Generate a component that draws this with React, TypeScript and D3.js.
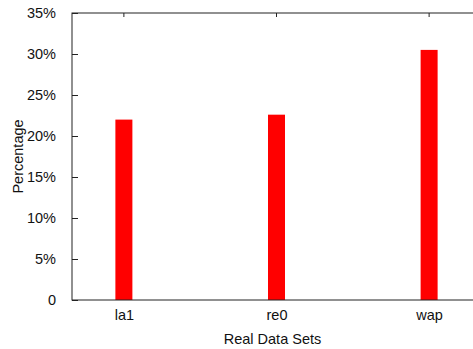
import { useEffect, useRef } from "react";
import * as d3 from "d3";

const categories = ["la1", "re0", "wap"];
const percentages = [22.0, 22.6, 30.5];
const yTicks = [0, 5, 10, 15, 20, 25, 30, 35];

const App = () => {
	const svgRef = useRef<SVGSVGElement>(null);

	useEffect(() => {
		if (!svgRef.current) return;
		const width = 473;
		const height = 349;
		const margin = { top: 13, left: 72, right: -8, bottom: 49 };

		const svg = d3.select(svgRef.current);
		svg.selectAll("*").remove();
		svg.attr("width", width).attr("height", height);

		const font = "'Liberation Sans', Arial, sans-serif";

		// échelles
		const x = d3
			.scaleLinear()
			.domain([-0.34, categories.length - 1 + 0.34])
			.range([margin.left, width - margin.right]);
		const y = d3
			.scaleLinear()
			.domain([0, 35])
			.range([height - margin.bottom, margin.top]);

		const x0 = x.range()[0];
		const x1 = x.range()[1];
		const yb = y(0);
		const yt = y(35);

		// barres
		const barW = 17;
		svg
			.append("g")
			.selectAll("rect")
			.data(percentages)
			.enter()
			.append("rect")
			.attr("x", (_d, i) => x(i) - barW / 2)
			.attr("y", (d) => y(d))
			.attr("width", barW)
			.attr("height", (d) => yb - y(d))
			.attr("fill", "#ff0000");

		// cadre
		svg
			.append("rect")
			.attr("x", x0)
			.attr("y", yt)
			.attr("width", x1 - x0)
			.attr("height", yb - yt)
			.attr("fill", "none")
			.attr("stroke", "#222")
			.attr("stroke-width", 1);

		// axe Y
		const yAxis = d3
			.axisLeft(y)
			.tickValues(yTicks)
			.tickSize(-6)
			.tickPadding(16)
			.tickFormat((d) => (d === 0 ? "0" : `${d}%`));
		const gy = svg
			.append("g")
			.attr("transform", `translate(${x0},0)`)
			.call(yAxis);
		gy.select(".domain").remove();
		gy.selectAll("line").attr("stroke", "#222");
		gy.selectAll("text")
			.attr("font-family", font)
			.attr("font-size", 14.5)
			.attr("fill", "#111");

		// axe X
		const xAxis = d3
			.axisBottom(x)
			.tickValues(d3.range(categories.length))
			.tickSize(0)
			.tickPadding(10)
			.tickFormat((_d, i) => categories[i]);
		const gx = svg
			.append("g")
			.attr("transform", `translate(0,${yb})`)
			.call(xAxis);
		gx.select(".domain").remove();
		gx.selectAll("text")
			.attr("font-family", font)
			.attr("font-size", 14.5)
			.attr("fill", "#111");

		// graduations du haut
		svg
			.append("g")
			.selectAll("line")
			.data(d3.range(categories.length))
			.enter()
			.append("line")
			.attr("x1", (d) => x(d))
			.attr("x2", (d) => x(d))
			.attr("y1", yt)
			.attr("y2", yt + 4)
			.attr("stroke", "#222");

		// titres des axes
		svg
			.append("text")
			.attr("x", (x0 + x1) / 2 - 4)
			.attr("y", 344)
			.attr("text-anchor", "middle")
			.attr("font-family", font)
			.attr("font-size", 14.5)
			.attr("fill", "#111")
			.text("Real Data Sets");

		svg
			.append("text")
			.attr("transform", `translate(23,${(yt + yb) / 2}) rotate(-90)`)
			.attr("text-anchor", "middle")
			.attr("font-family", font)
			.attr("font-size", 14.5)
			.attr("fill", "#111")
			.text("Percentage");
	}, []);

	return (
		<svg
			ref={svgRef}
			style={{ position: "absolute", left: 0, top: 0, background: "#fff" }}
		></svg>
	);
};

export default App;
